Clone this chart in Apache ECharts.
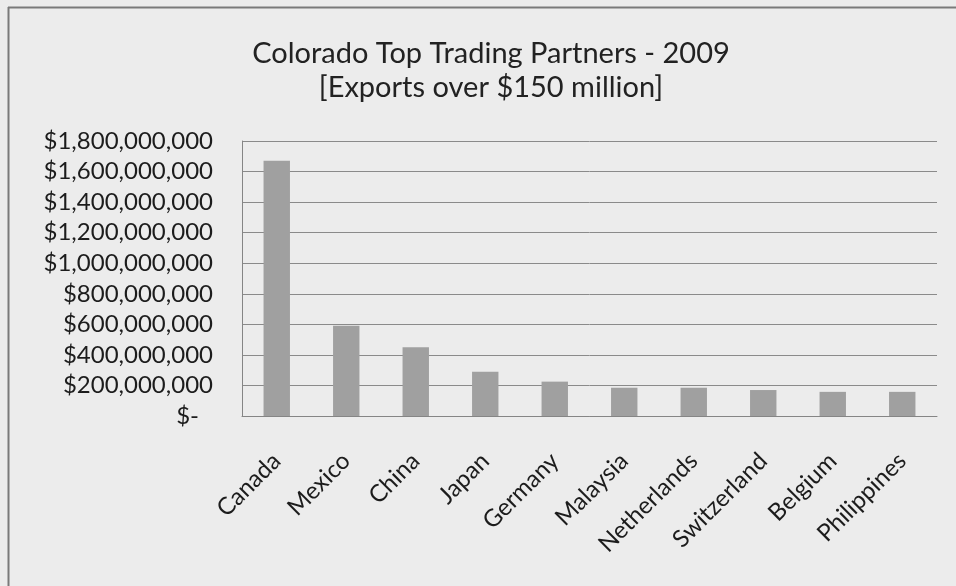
<!DOCTYPE html>
<html>
<head>
<meta charset="utf-8">
<title>Colorado Top Trading Partners - 2009</title>
<script src="https://cdn.jsdelivr.net/npm/echarts@6/dist/echarts.min.js"></script>
<style>
  html, body { margin: 0; padding: 0; background: #ececec; }
  #chart { width: 956px; height: 586px; }
</style>
</head>
<body>
<div id="chart"></div>
<script>
// Colorado exports by destination country, 2009 (USD)
const categories = ['Canada', 'Mexico', 'China', 'Japan', 'Germany', 'Malaysia',
  'Netherlands', 'Switzerland', 'Belgium', 'Philippines'];
const exportsUsd = [1670000000, 590000000, 450000000, 290000000, 225000000,
  185000000, 185000000, 170000000, 158000000, 158000000];
const titleLines = ['Colorado Top Trading Partners - 2009', '[Exports over $150 million]'];

const FONT = 'Lato, "Open Sans", sans-serif';
const TEXT = '#1c1c1c';
const chart = echarts.init(document.getElementById('chart'));

function money(v) {
  if (v === 0) return '{z|$-}';
  return '$' + v.toLocaleString('en-US');
}

chart.setOption({
  backgroundColor: '#ececec',
  animation: false,
  title: {
    text: titleLines.join('\n'),
    left: 486,
    top: 32,
    textAlign: 'center',
    textStyle: {
      fontFamily: FONT,
      fontSize: 29,
      fontWeight: 'normal',
      color: '#222',
      lineHeight: 34
    }
  },
  grid: { left: 242, right: 19, top: 141, bottom: 170, containLabel: false },
  xAxis: {
    type: 'category',
    data: categories,
    axisLine: { show: true, lineStyle: { color: '#858585', width: 1 } },
    axisTick: { show: false },
    axisLabel: {
      interval: 0,
      rotate: 45,
      margin: 41,
      fontFamily: FONT,
      fontSize: 24,
      color: TEXT
    }
  },
  yAxis: {
    type: 'value',
    min: 0,
    max: 1800000000,
    interval: 200000000,
    axisLine: { show: true, lineStyle: { color: '#858585', width: 1 } },
    axisTick: { show: false },
    splitLine: { show: true, lineStyle: { color: '#8a8a8a', width: 1 } },
    axisLabel: {
      margin: 29,
      fontFamily: FONT,
      fontSize: 24,
      color: TEXT,
      formatter: money,
      rich: {
        z: { fontFamily: FONT, fontSize: 24, color: TEXT, padding: [0, 14, 0, 0] }
      }
    }
  },
  series: [{
    type: 'bar',
    data: exportsUsd,
    barCategoryGap: '62%',
    itemStyle: { color: '#a0a0a0' }
  }],
  graphic: [
    // frame of the chart box (left and top edges)
    { type: 'line', shape: { x1: 8.5, y1: 7, x2: 8.5, y2: 586 }, style: { stroke: '#7a7a7a', lineWidth: 2 } },
    { type: 'line', shape: { x1: 8, y1: 7.5, x2: 956, y2: 7.5 }, style: { stroke: '#7a7a7a', lineWidth: 2 } }
  ]
});
</script>
</body>
</html>
